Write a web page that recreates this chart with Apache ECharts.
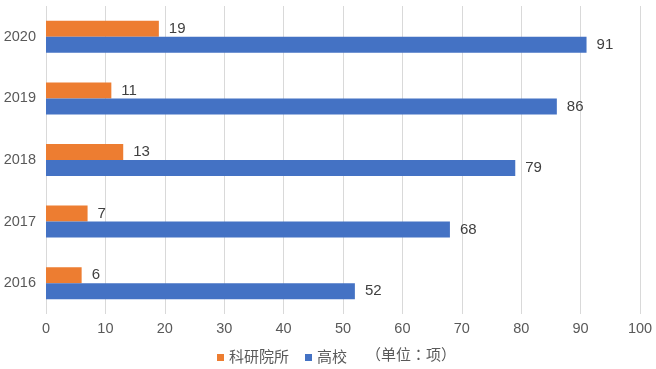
<!DOCTYPE html>
<html><head><meta charset="utf-8">
<script src="https://cdn.jsdelivr.net/npm/echarts@6/dist/echarts.min.js"></script>
<style>html,body{margin:0;padding:0;background:#fff}#c{width:656px;height:369px}</style>
</head><body><div id="c"></div>
<script>
const years = ['2016','2017','2018','2019','2020'];
const institutes = [6, 7, 13, 11, 19];
const universities = [52, 68, 79, 86, 91];
const seriesNames = ['科研院所','高校'];
const unitText = '（单位：项）';

const chart = echarts.init(document.getElementById('c'));
const font = '"Liberation Sans", "Noto Sans CJK SC", sans-serif';
chart.setOption({
  animation: false,
  textStyle: {fontFamily: font},
  grid: {left: 46, right: 16, top: 6, bottom: 55},
  legend: {
    data: seriesNames, bottom: 4, left: 217, padding: 0,
    itemWidth: 7, itemHeight: 7, itemGap: 16, icon: 'rect',
    textStyle: {fontSize: 15, color: '#595959', fontFamily: font}
  },
  graphic: [{type: 'text', left: 366, top: 348, style: {text: unitText, fill: '#595959', font: '15px "Liberation Sans", "Noto Sans CJK TC", sans-serif'}}],
  xAxis: {
    type: 'value', min: 0, max: 100, interval: 10,
    axisLine: {show: false}, axisTick: {show: false},
    axisLabel: {fontSize: 14.5, color: '#595959', margin: 8},
    splitLine: {lineStyle: {color: '#d9d9d9'}}
  },
  yAxis: {
    type: 'category', data: years,
    axisLine: {show: false}, axisTick: {show: false},
    axisLabel: {fontSize: 14.5, color: '#595959', margin: 10}
  },
  series: [
    {name: seriesNames[0], type: 'bar', data: institutes, barWidth: 16, barGap: '0%',
     itemStyle: {color: '#ED7D31'},
     label: {show: true, position: 'right', distance: 10, fontSize: 15, color: '#404040'}},
    {name: seriesNames[1], type: 'bar', data: universities, barWidth: 16, barGap: '0%',
     itemStyle: {color: '#4472C4'},
     label: {show: true, position: 'right', distance: 10, fontSize: 15, color: '#404040'}}
  ]
});
</script></body></html>
